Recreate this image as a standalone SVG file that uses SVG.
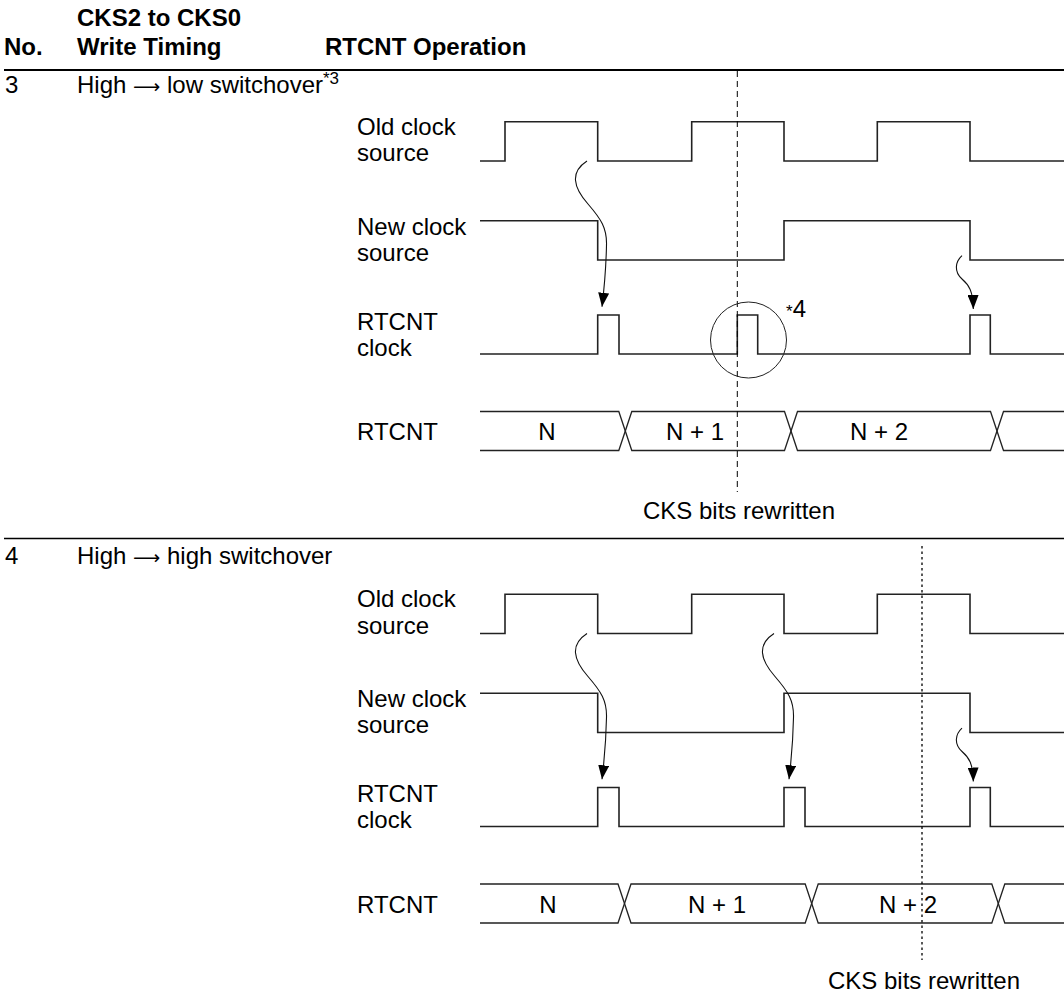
<svg xmlns="http://www.w3.org/2000/svg" width="1064" height="994" viewBox="0 0 1064 994">
<style>
text{font-family:"Liberation Sans",Arial,sans-serif;font-size:24px;fill:#000}
.hd{font-weight:bold}
.ar{font-family:"DejaVu Sans",sans-serif;font-size:19px}
.wave{fill:none;stroke:#222;stroke-width:1.6;stroke-linejoin:miter}
.bus{fill:none;stroke:#222;stroke-width:1.3}
.arr{fill:none;stroke:#111;stroke-width:1.1;marker-end:url(#ah)}
.rule{stroke:#000;fill:none}
.mid{text-anchor:middle}
</style>
<defs>
<marker id="ah" viewBox="0 0 14 11" refX="14" refY="5.5" markerUnits="userSpaceOnUse" markerWidth="14" markerHeight="11" orient="auto">
<path d="M0,0 L14,5.5 L0,11 Z" fill="#000"/>
</marker>
</defs>
<rect width="1064" height="994" fill="#fff"/>
<g id="header">
<text class="hd" x="77" y="26">CKS2 to CKS0</text>
<text class="hd" x="4" y="55">No.</text>
<text class="hd" x="77" y="55">Write Timing</text>
<text class="hd" x="325" y="55">RTCNT Operation</text>
<line class="rule" x1="4" y1="70" x2="1064" y2="70" stroke-width="2"/>
</g>
<g id="section3">
<text x="5" y="93">3</text>
<text x="77" y="93">High <tspan class="ar">⟶</tspan> low switchover<tspan font-size="17" dy="-9">*3</tspan></text>
<g id="s3-labels">
<text x="357" y="134.5">Old clock</text><text x="357" y="161">source</text>
<text x="357" y="234.5">New clock</text><text x="357" y="260.5">source</text>
<text x="357" y="329.5">RTCNT</text><text x="357" y="355.5">clock</text>
<text x="357" y="440">RTCNT</text>
</g>
<g id="s3-old"><path class="wave" d="M480,161 H505 V121.7 H597.7 V161 H691.7 V121.7 H784 V161 H877.3 V121.7 H970 V161 H1064"/></g>
<g id="s3-new"><path class="wave" d="M480,220.7 H597.7 V260 H784 V220.7 H970 V260 H1064"/></g>
<g id="s3-clk"><path class="wave" d="M480,354 H597.7 V315 H619 V354 H737.3 V315 H757.7 V354 H970 V315 H990.3 V354 H1064"/></g>
<g id="s3-bus">
<path class="bus" d="M480,411.5 H618.8 L631.8,450.5 H784.5 L797.5,411.5 H990.5 L1003.5,450.5 H1064"/>
<path class="bus" d="M480,450.5 H618.8 L631.8,411.5 H784.5 L797.5,450.5 H990.5 L1003.5,411.5 H1064"/>
<text class="mid" x="547" y="440">N</text>
<text class="mid" x="695" y="440">N + 1</text>
<text class="mid" x="879" y="440">N + 2</text>
</g>
<g id="s3-marker">
<line x1="737.3" y1="71" x2="737.3" y2="492" stroke="#000" stroke-width="1" stroke-dasharray="6 4"/>
<circle cx="748.5" cy="340" r="38" fill="none" stroke="#222" stroke-width="1"/>
<text x="786" y="316.7" font-size="18"><tspan font-size="17">*</tspan>4</text>
<text class="mid" x="739" y="518.5">CKS bits rewritten</text>
</g>
</g>
<g id="section4">
<line class="rule" x1="4" y1="538.5" x2="1064" y2="538.5" stroke-width="1.5"/>
<text x="5" y="564">4</text>
<text x="77" y="564">High <tspan class="ar">⟶</tspan> high switchover</text>
<g id="s4-labels">
<text x="357" y="607">Old clock</text><text x="357" y="633.5">source</text>
<text x="357" y="707">New clock</text><text x="357" y="733">source</text>
<text x="357" y="802">RTCNT</text><text x="357" y="828">clock</text>
<text x="357" y="912.5">RTCNT</text>
</g>
<g id="s4-old"><path class="wave" d="M480,633.5 H505 V594.2 H597.7 V633.5 H691.7 V594.2 H784 V633.5 H877.3 V594.2 H970 V633.5 H1064"/></g>
<g id="s4-new"><path class="wave" d="M480,693.2 H597.7 V732.5 H784 V693.2 H970 V732.5 H1064"/></g>
<g id="s4-clk"><path class="wave" d="M480,826.5 H597.7 V787.5 H619 V826.5 H784 V787.5 H805 V826.5 H970 V787.5 H990.3 V826.5 H1064"/></g>
<g id="s4-bus">
<path class="bus" d="M480,884 H618 L631,923 H805.2 L818.2,884 H991.8 L1004.8,923 H1064"/>
<path class="bus" d="M480,923 H618 L631,884 H805.2 L818.2,923 H991.8 L1004.8,884 H1064"/>
<text class="mid" x="548" y="912.5">N</text>
<text class="mid" x="717" y="912.5">N + 1</text>
<text class="mid" x="908" y="912.5">N + 2</text>
</g>
<g id="s4-marker">
<line x1="922" y1="546" x2="922" y2="960" stroke="#000" stroke-width="1.3" stroke-dasharray="2.5 3"/>
<text class="mid" x="924" y="989">CKS bits rewritten</text>
</g>
</g>
<g id="connectors">
<path class="arr" d="M587,161 C570,172 573,187 588,204 C601,219 607,228 606.5,245 C606,270 604,290 602,306.7"/>
<path class="arr" d="M962,255.7 C955,262 954,272 962,279 C969,285 973,291 973.3,309"/>
<path class="arr" transform="translate(0,472.5)" d="M587,161 C570,172 573,187 588,204 C601,219 607,228 606.5,245 C606,270 604,290 602,306.7"/>
<path class="arr" transform="translate(187,472.5)" d="M587,161 C570,172 573,187 588,204 C601,219 607,228 606.5,245 C606,270 604,290 602,306.7"/>
<path class="arr" transform="translate(0,472.5)" d="M962,255.7 C955,262 954,272 962,279 C969,285 973,291 973.3,309"/>
</g>
</svg>
